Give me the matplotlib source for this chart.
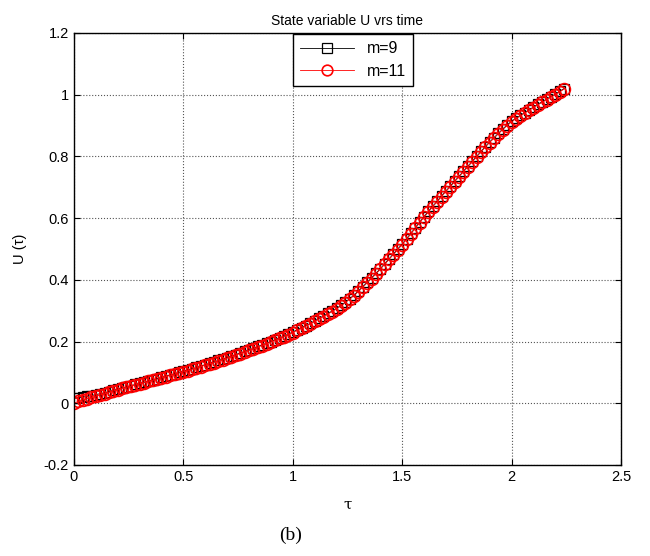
import matplotlib
matplotlib.use("Agg")
import matplotlib.pyplot as plt

# time grid
tau = [0.00, 0.02, 0.04, 0.06, 0.08, 0.10, 0.12, 0.14, 0.16, 0.18,
       0.20, 0.22, 0.24, 0.26, 0.28, 0.30, 0.32, 0.34, 0.36, 0.38,
       0.40, 0.42, 0.44, 0.46, 0.48, 0.50, 0.52, 0.54, 0.56, 0.58,
       0.60, 0.62, 0.64, 0.66, 0.68, 0.70, 0.72, 0.74, 0.76, 0.78,
       0.80, 0.82, 0.84, 0.86, 0.88, 0.90, 0.92, 0.94, 0.96, 0.98,
       1.00, 1.02, 1.04, 1.06, 1.08, 1.10, 1.12, 1.14, 1.16, 1.18,
       1.20, 1.22, 1.24, 1.26, 1.28, 1.30, 1.32, 1.34, 1.36, 1.38,
       1.40, 1.42, 1.44, 1.46, 1.48, 1.50, 1.52, 1.54, 1.56, 1.58,
       1.60, 1.62, 1.64, 1.66, 1.68, 1.70, 1.72, 1.74, 1.76, 1.78,
       1.80, 1.82, 1.84, 1.86, 1.88, 1.90, 1.92, 1.94, 1.96, 1.98,
       2.00, 2.02, 2.04, 2.06, 2.08, 2.10, 2.12, 2.14, 2.16, 2.18,
       2.20, 2.22, 2.24]

u_m11 = [0.000, 0.006, 0.011, 0.015, 0.019, 0.023, 0.027, 0.031, 0.035, 0.040,
         0.044, 0.048, 0.052, 0.055, 0.059, 0.063, 0.067, 0.071, 0.074, 0.078,
         0.082, 0.086, 0.090, 0.094, 0.098, 0.102, 0.106, 0.110, 0.114, 0.119,
         0.123, 0.128, 0.132, 0.137, 0.141, 0.146, 0.151, 0.156, 0.161, 0.166,
         0.171, 0.176, 0.182, 0.187, 0.193, 0.198, 0.204, 0.210, 0.216, 0.222,
         0.229, 0.236, 0.243, 0.250, 0.257, 0.265, 0.273, 0.281, 0.289, 0.297,
         0.306, 0.315, 0.326, 0.337, 0.349, 0.362, 0.376, 0.390, 0.404, 0.419,
         0.434, 0.450, 0.466, 0.482, 0.498, 0.514, 0.531, 0.549, 0.567, 0.585,
         0.603, 0.620, 0.637, 0.653, 0.670, 0.686, 0.702, 0.718, 0.734, 0.750,
         0.766, 0.782, 0.798, 0.814, 0.830, 0.845, 0.859, 0.873, 0.887, 0.900,
         0.912, 0.922, 0.931, 0.940, 0.949, 0.958, 0.967, 0.975, 0.984, 0.992,
         1.000, 1.009, 1.018]

u_m9 = [0.016, 0.018, 0.020, 0.022, 0.025, 0.028, 0.031, 0.034, 0.038, 0.042,
        0.046, 0.050, 0.053, 0.057, 0.061, 0.065, 0.068, 0.072, 0.076, 0.080,
        0.084, 0.088, 0.092, 0.096, 0.100, 0.104, 0.108, 0.112, 0.116, 0.121,
        0.125, 0.130, 0.134, 0.139, 0.143, 0.148, 0.153, 0.158, 0.163, 0.168,
        0.173, 0.178, 0.184, 0.189, 0.195, 0.200, 0.206, 0.212, 0.218, 0.224,
        0.231, 0.238, 0.245, 0.252, 0.259, 0.267, 0.275, 0.283, 0.291, 0.299,
        0.308, 0.317, 0.328, 0.339, 0.351, 0.364, 0.378, 0.392, 0.406, 0.421,
        0.436, 0.452, 0.468, 0.484, 0.500, 0.516, 0.533, 0.551, 0.569, 0.587,
        0.605, 0.622, 0.639, 0.655, 0.672, 0.688, 0.704, 0.720, 0.736, 0.752,
        0.768, 0.784, 0.800, 0.816, 0.832, 0.847, 0.861, 0.875, 0.889, 0.902,
        0.914, 0.924, 0.933, 0.942, 0.951, 0.960, 0.969, 0.977, 0.986, 0.994,
        1.002, 1.011, 1.020]

x_ticks = [0, 0.5, 1, 1.5, 2, 2.5]
x_labels = ["0", "0.5", "1", "1.5", "2", "2.5"]
y_ticks = [-0.2, 0, 0.2, 0.4, 0.6, 0.8, 1, 1.2]
y_labels = ["-0.2", "0", "0.2", "0.4", "0.6", "0.8", "1", "1.2"]

plt.rcParams['font.family'] = ['Liberation Sans', 'DejaVu Sans']

fig = plt.figure(figsize=(6.5, 5.56), dpi=100)
ax = fig.add_axes([0.1138, 0.1637, 0.8415, 0.777])

ax.plot(tau, u_m9, color='black', linewidth=0.6, marker='s', markersize=7.5,
        markerfacecolor='none', markeredgecolor='black', markeredgewidth=0.9,
        label='m=9')
ax.plot(tau, u_m11, color='red', linewidth=0.6, marker='o', markersize=8.5,
        markerfacecolor='none', markeredgecolor='red', markeredgewidth=1.2,
        label='m=11')

ax.set_xlim(0, 2.5)
ax.set_ylim(-0.2, 1.2)
ax.set_xticks(x_ticks)
ax.set_xticklabels(x_labels)
ax.set_yticks(y_ticks)
ax.set_yticklabels(y_labels)
ax.tick_params(direction='in', top=True, right=True, length=4, width=0.8,
               labelsize=10.5, colors='black')
ax.grid(True, linestyle=':', color='#555555', linewidth=0.8)
for s in ax.spines.values():
    s.set_linewidth(1.0)

ax.set_title('State variable U vrs time', fontsize=10, pad=6)
ax.set_xlabel('\u03c4', fontsize=11, family=['DejaVu Serif'], labelpad=10)
ax.set_ylabel('U (\u03c4)', fontsize=10.5, labelpad=12)

leg = ax.legend(loc='upper left', bbox_to_anchor=(0.40, 0.997),
                borderaxespad=0, fancybox=False, framealpha=1,
                edgecolor='black', fontsize=11.5, handlelength=3.4,
                labelspacing=0.45, borderpad=0.45, markerscale=0.9)
leg.get_frame().set_linewidth(1.0)

fig.text(0.447, 0.038, '(b)', fontsize=14, family=['Liberation Serif'],
         ha='center', va='center')

fig.savefig('out.png', dpi=100)
